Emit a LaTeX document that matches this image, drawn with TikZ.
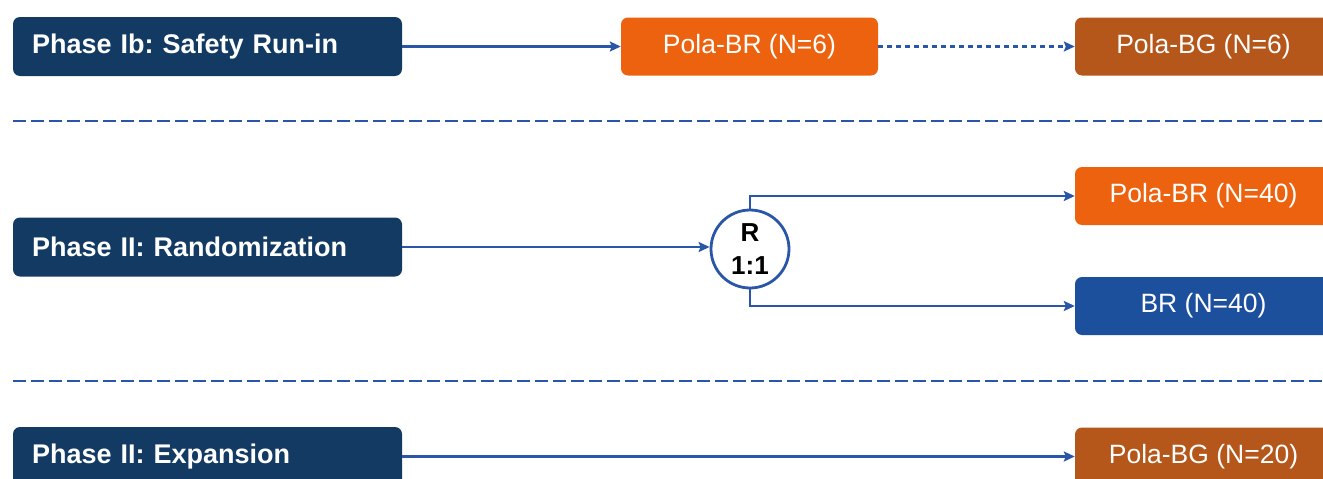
\documentclass[tikz,border=0pt]{standalone}
\usepackage{fontspec}
\setmainfont{Liberation Sans}
\usetikzlibrary{arrows.meta}
\definecolor{navy}{HTML}{133A63}
\definecolor{orng}{HTML}{EC620F}
\definecolor{brwn}{HTML}{B5561A}
\definecolor{bblue}{HTML}{1C4F9C}
\definecolor{lblue}{HTML}{2A56A8}
\frenchspacing
\begin{document}
\begin{tikzpicture}[x=1pt,y=-1pt,
  phasebox/.style={rectangle, rounded corners=7pt, fill=navy, text=white,
    minimum width=389pt, minimum height=59pt, inner sep=0pt, text width=351pt, align=left,
    font=\fontsize{27}{30}\selectfont\bfseries},
  armbox/.style={rectangle, rounded corners=7pt, fill=#1, text=white,
    minimum width=257pt, minimum height=58pt, inner sep=0pt,
    font=\fontsize{26.5}{30}\selectfont},
  conn/.style={draw=lblue, line width=2.8pt, -{Stealth[length=11pt,width=10pt,inset=2pt]}},
  sep/.style={draw=lblue, line width=2.8pt, dash pattern=on 13pt off 5pt},
  rcircle/.style={circle, draw=lblue, line width=2.8pt, fill=white, minimum size=78pt, inner sep=0pt,
    align=center, font=\fontsize{26}{33}\selectfont\bfseries}
]
\useasboundingbox (0,0) rectangle (1323,479);
\clip (0,0) rectangle (1323,479);
% separators
\coordinate (s1a) at (13,121);
\coordinate (s1b) at (1330,121);
\coordinate (s2a) at (13,381);
\coordinate (s2b) at (1330,381);
\draw[sep] (s1a) -- (s1b);
\draw[sep] (s2a) -- (s2b);
% row 1
\node[phasebox] (p1) at (207.5,46.5) {Phase Ib: Safety Run-in};
\node[armbox=orng] (a1) at (749.5,46.5) {Pola-BR (N=6)};
\node[armbox=brwn] (a2) at (1203.5,46.5) {Pola-BG (N=6)};
\draw[conn] (p1.east) -- (a1.west);
\draw[conn, dash pattern=on 5pt off 4pt] (a1.east) -- (a2.west);
% row 2
\node[phasebox] (p2) at (207.5,247) {Phase II: Randomization};
\node[rcircle] (r) at (750,249) {R\\1:1};
\node[armbox=orng] (a3) at (1203.5,196) {Pola-BR (N=40)};
\node[armbox=bblue] (a4) at (1203.5,306) {BR (N=40)};
\draw[conn] (p2.east) -- (p2.east -| r.west);
\draw[conn] (r.north) |- (a3.west);
\draw[conn] (r.south) |- (a4.west);
% row 3
\node[phasebox] (p3) at (207.5,456.5) {Phase II: Expansion};
\node[armbox=brwn] (a5) at (1203.5,456.5) {Pola-BG (N=20)};
\draw[conn] (p3.east) -- (a5.west);
\end{tikzpicture}
\end{document}
